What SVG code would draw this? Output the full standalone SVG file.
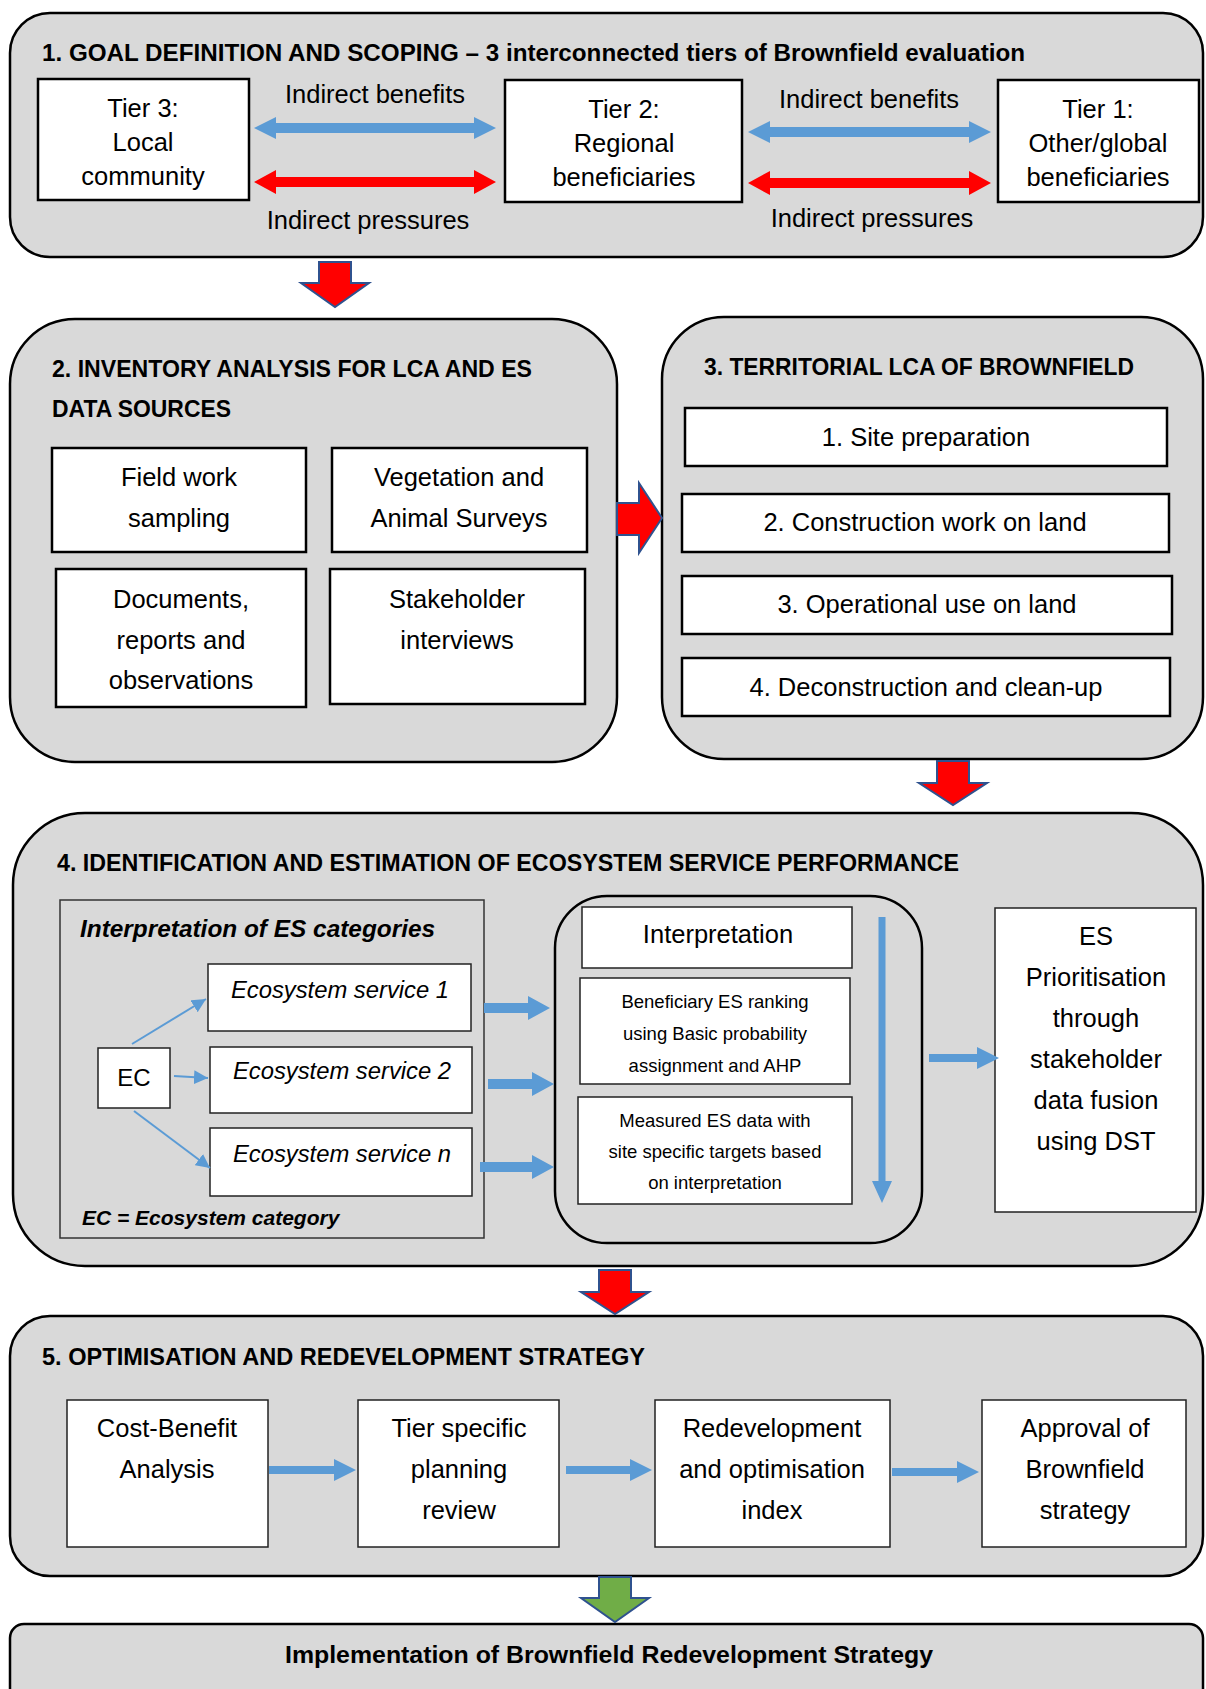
<svg xmlns="http://www.w3.org/2000/svg" width="1206" height="1689" viewBox="0 0 1206 1689">
<defs>
<style>
text{font-family:"Liberation Sans",Arial,sans-serif;fill:#000}
.panel{fill:#d9d9d9;stroke:#000;stroke-width:2.5}
.box{fill:#fff;stroke:#000;stroke-width:2.5}
.tbox{fill:#fff;stroke:#222;stroke-width:1.5}
.title{font-weight:bold;font-size:23.4px}
.body{font-size:25.5px;text-anchor:middle}
.small{font-size:18.5px;text-anchor:middle}
.es{font-size:23.8px;font-style:italic;text-anchor:middle}
.blue{fill:#5b9bd5}
.red{fill:#ff0000}
.blk{fill:#ff0000;stroke:#2f528f;stroke-width:2}
.grn{fill:#70ad47;stroke:#2f528f;stroke-width:2}
.thin{stroke:#5b9bd5;stroke-width:2;fill:none}
</style>
<marker id="ah" viewBox="0 0 10 10" refX="10" refY="5" markerWidth="14" markerHeight="14" markerUnits="userSpaceOnUse" orient="auto">
<path d="M0,0 L10,5 L0,10 Z" fill="#5b9bd5"/>
</marker>
</defs>

<!-- Panel 1 -->
<g id="panel1">
<rect class="panel" x="10" y="13" width="1193" height="244" rx="40"/>
<text class="title" x="42" y="61" textLength="983" lengthAdjust="spacingAndGlyphs">1. GOAL DEFINITION AND SCOPING – 3 interconnected tiers of Brownfield evaluation</text>
</g>
<g id="tier3">
<rect class="box" x="38" y="79" width="211" height="121"/>
<text class="body" x="143" y="117">Tier 3:</text>
<text class="body" x="143" y="151">Local</text>
<text class="body" x="143" y="185">community</text>
</g>
<g id="tier2">
<rect class="box" x="505" y="80" width="237" height="122"/>
<text class="body" x="624" y="118">Tier 2:</text>
<text class="body" x="624" y="152">Regional</text>
<text class="body" x="624" y="186">beneficiaries</text>
</g>
<g id="tier1">
<rect class="box" x="998" y="80" width="201" height="122"/>
<text class="body" x="1098" y="118">Tier 1:</text>
<text class="body" x="1098" y="152">Other/global</text>
<text class="body" x="1098" y="186">beneficiaries</text>
</g>

<!-- Panel 2 -->
<g id="panel2">
<rect class="panel" x="10" y="319" width="607" height="443" rx="65"/>
<text class="title" x="52" y="377" textLength="480" lengthAdjust="spacingAndGlyphs">2. INVENTORY ANALYSIS FOR LCA AND ES</text>
<text class="title" x="52" y="417" textLength="179" lengthAdjust="spacingAndGlyphs">DATA SOURCES</text>
</g>
<g id="fieldwork">
<rect class="box" x="52" y="448" width="254" height="104"/>
<text class="body" x="179" y="486">Field work</text>
<text class="body" x="179" y="527">sampling</text>
</g>
<g id="vegetation">
<rect class="box" x="332" y="448" width="255" height="104"/>
<text class="body" x="459" y="486">Vegetation and</text>
<text class="body" x="459" y="527">Animal Surveys</text>
</g>
<g id="documents">
<rect class="box" x="56" y="569" width="250" height="138"/>
<text class="body" x="181" y="608">Documents,</text>
<text class="body" x="181" y="649">reports and</text>
<text class="body" x="181" y="689">observations</text>
</g>
<g id="stakeholder">
<rect class="box" x="330" y="569" width="255" height="135"/>
<text class="body" x="457" y="608">Stakeholder</text>
<text class="body" x="457" y="649">interviews</text>
</g>

<!-- Panel 3 -->
<g id="panel3">
<rect class="panel" x="662" y="317" width="541" height="442" rx="62"/>
<text class="title" x="704" y="375" textLength="430" lengthAdjust="spacingAndGlyphs">3. TERRITORIAL LCA OF BROWNFIELD</text>
</g>
<g id="site">
<rect class="box" x="685" y="408" width="482" height="58"/>
<text class="body" x="926" y="446">1. Site preparation</text>
</g>
<g id="construction">
<rect class="box" x="682" y="494" width="487" height="58"/>
<text class="body" x="925" y="531">2. Construction work on land</text>
</g>
<g id="operational">
<rect class="box" x="682" y="576" width="490" height="58"/>
<text class="body" x="927" y="613">3. Operational use on land</text>
</g>
<g id="deconstruction">
<rect class="box" x="682" y="658" width="488" height="58"/>
<text class="body" x="926" y="696">4. Deconstruction and clean-up</text>
</g>

<!-- Panel 4 -->
<g id="panel4">
<rect class="panel" x="13" y="813" width="1190" height="453" rx="72"/>
<text class="title" x="57" y="871" textLength="902" lengthAdjust="spacingAndGlyphs">4. IDENTIFICATION AND ESTIMATION OF ECOSYSTEM SERVICE PERFORMANCE</text>
</g>
<g id="escategories">
<rect x="60" y="900" width="424" height="338" fill="#d9d9d9" stroke="#333" stroke-width="1.5"/>
<text x="80" y="937" font-size="24.4" font-weight="bold" font-style="italic">Interpretation of ES categories</text>
<text x="82" y="1225" font-size="21" font-weight="bold" font-style="italic">EC = Ecosystem category</text>
</g>
<g id="ec">
<rect class="tbox" x="98" y="1048" width="72" height="60"/>
<text class="body" x="134" y="1086" style="font-size:24px">EC</text>
</g>
<g id="es1">
<rect class="tbox" x="208" y="964" width="263" height="67"/>
<text class="es" x="340" y="998">Ecosystem service 1</text>
</g>
<g id="es2">
<rect class="tbox" x="210" y="1047" width="262" height="66"/>
<text class="es" x="342" y="1079">Ecosystem service 2</text>
</g>
<g id="esn">
<rect class="tbox" x="210" y="1128" width="262" height="68"/>
<text class="es" x="342" y="1162">Ecosystem service n</text>
</g>
<g id="interpgroup">
<rect x="555" y="896" width="367" height="347" rx="52" fill="#d9d9d9" stroke="#000" stroke-width="2.5"/>
</g>
<g id="interpretation">
<rect class="tbox" x="582" y="907" width="270" height="61"/>
<text class="body" x="718" y="943">Interpretation</text>
</g>
<g id="beneficiary">
<rect class="tbox" x="580" y="978" width="270" height="106"/>
<text class="small" x="715" y="1008">Beneficiary ES ranking</text>
<text class="small" x="715" y="1040">using Basic probability</text>
<text class="small" x="715" y="1072">assignment and AHP</text>
</g>
<g id="measured">
<rect class="tbox" x="578" y="1097" width="274" height="107"/>
<text class="small" x="715" y="1127">Measured ES data with</text>
<text class="small" x="715" y="1158">site specific targets based</text>
<text class="small" x="715" y="1189">on interpretation</text>
</g>
<g id="prioritisation">
<rect class="tbox" x="995" y="908" width="201" height="304"/>
<text class="body" x="1096" y="945">ES</text>
<text class="body" x="1096" y="986">Prioritisation</text>
<text class="body" x="1096" y="1027">through</text>
<text class="body" x="1096" y="1068">stakeholder</text>
<text class="body" x="1096" y="1109">data fusion</text>
<text class="body" x="1096" y="1150">using DST</text>
</g>

<!-- Panel 5 -->
<g id="panel5">
<rect class="panel" x="10" y="1316" width="1193" height="260" rx="40"/>
<text class="title" x="42" y="1365" textLength="603" lengthAdjust="spacingAndGlyphs">5. OPTIMISATION AND REDEVELOPMENT STRATEGY</text>
</g>
<g id="costbenefit">
<rect class="tbox" x="67" y="1400" width="201" height="147"/>
<text class="body" x="167" y="1437">Cost-Benefit</text>
<text class="body" x="167" y="1478">Analysis</text>
</g>
<g id="tierspecific">
<rect class="tbox" x="358" y="1400" width="201" height="147"/>
<text class="body" x="459" y="1437">Tier specific</text>
<text class="body" x="459" y="1478">planning</text>
<text class="body" x="459" y="1519">review</text>
</g>
<g id="redevelopment">
<rect class="tbox" x="655" y="1400" width="235" height="147"/>
<text class="body" x="772" y="1437">Redevelopment</text>
<text class="body" x="772" y="1478">and optimisation</text>
<text class="body" x="772" y="1519">index</text>
</g>
<g id="approval">
<rect class="tbox" x="982" y="1400" width="204" height="147"/>
<text class="body" x="1085" y="1437">Approval of</text>
<text class="body" x="1085" y="1478">Brownfield</text>
<text class="body" x="1085" y="1519">strategy</text>
</g>

<!-- Panel 6 -->
<g id="implementation">
<rect class="panel" x="10" y="1624" width="1193" height="120" rx="14"/>
<text class="title" x="285" y="1663" textLength="648" lengthAdjust="spacingAndGlyphs">Implementation of Brownfield Redevelopment Strategy</text>
</g>

<!-- Connectors -->
<g id="connectors">
<!-- Panel 1 double arrows -->
<path class="blue" d="M254,128 L276,117 L276,123 L474,123 L474,117 L496,128 L474,139 L474,133 L276,133 L276,139 Z"/>
<path class="red" d="M254,182 L276,170 L276,177 L474,177 L474,170 L496,182 L474,194 L474,187 L276,187 L276,194 Z"/>
<path class="blue" d="M748,132 L770,121 L770,127 L969,127 L969,121 L991,132 L969,143 L969,137 L770,137 L770,143 Z"/>
<path class="red" d="M748,183 L770,171 L770,178 L969,178 L969,171 L991,183 L969,195 L969,188 L770,188 L770,195 Z"/>
<text class="body" x="375" y="103">Indirect benefits</text>
<text class="body" x="368" y="229">Indirect pressures</text>
<text class="body" x="869" y="108">Indirect benefits</text>
<text class="body" x="872" y="227">Indirect pressures</text>

<!-- Block arrows between panels -->
<path class="blk" d="M319,262 L351,262 L351,283 L369,283 L335,307 L301,283 L319,283 Z"/>
<path class="blk" d="M617,503 L639,503 L639,483 L662,518 L639,553 L639,535 L617,535 Z"/>
<path class="blk" d="M937,761 L969,761 L969,783 L987,783 L953,805 L919,783 L937,783 Z"/>
<path class="blk" d="M599,1270 L631,1270 L631,1292 L649,1292 L615,1314 L581,1292 L599,1292 Z"/>
<path class="grn" d="M599,1577 L631,1577 L631,1598 L649,1598 L615,1622 L581,1598 L599,1598 Z"/>

<!-- EC thin arrows -->
<line class="thin" x1="132" y1="1044" x2="206" y2="999" marker-end="url(#ah)"/>
<line class="thin" x1="174" y1="1076" x2="208" y2="1078" marker-end="url(#ah)"/>
<line class="thin" x1="134" y1="1111" x2="210" y2="1168" marker-end="url(#ah)"/>

<!-- ES to interpretation -->
<path class="blue" d="M484,1003 L528,1003 L528,996 L550,1008 L528,1020 L528,1013 L484,1013 Z"/>
<path class="blue" d="M488,1079 L532,1079 L532,1072 L554,1084 L532,1096 L532,1089 L488,1089 Z"/>
<path class="blue" d="M480,1162 L532,1162 L532,1155 L554,1167 L532,1179 L532,1172 L480,1172 Z"/>

<!-- vertical arrow -->
<path class="blue" d="M878.5,917 L885.5,917 L885.5,1181 L892,1181 L882,1203 L872,1181 L878.5,1181 Z"/>

<!-- to prioritisation -->
<path class="blue" d="M929,1054 L977,1054 L977,1047 L999,1058 L977,1069 L977,1062 L929,1062 Z"/>

<!-- panel 5 arrows -->
<path class="blue" d="M269,1466 L334,1466 L334,1459 L356,1470 L334,1481 L334,1474 L269,1474 Z"/>
<path class="blue" d="M566,1466 L630,1466 L630,1459 L652,1470 L630,1481 L630,1474 L566,1474 Z"/>
<path class="blue" d="M892,1468 L957,1468 L957,1461 L979,1472 L957,1483 L957,1476 L892,1476 Z"/>
</g>
</svg>
